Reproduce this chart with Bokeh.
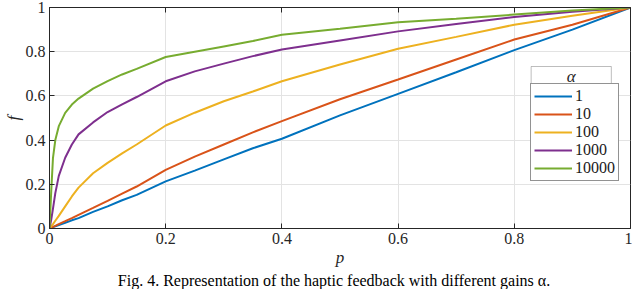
from bokeh.plotting import figure
from bokeh.models import (Legend, LegendItem, LinearAxis, FixedTicker, Label,
                          Range1d, BoxAnnotation, Title)
from bokeh.core.properties import value
from bokeh.embed import file_html
from bokeh.resources import INLINE

# ---- data ----
p_vals = [0, 0.003, 0.006, 0.01, 0.016, 0.027, 0.0385, 0.05, 0.075, 0.1, 0.125,
          0.15, 0.2, 0.25, 0.3, 0.35, 0.4, 0.5, 0.6, 0.7, 0.8, 0.9, 1.0]
f_a1 = [0, 0.003, 0.006, 0.01, 0.016, 0.026, 0.037, 0.047, 0.075, 0.1, 0.128,
        0.152, 0.213, 0.262, 0.313, 0.363, 0.406, 0.512, 0.609, 0.707, 0.807, 0.90, 1.0]
f_a10 = [0, 0.003, 0.007, 0.012, 0.02, 0.033, 0.047, 0.062, 0.093, 0.125, 0.158,
         0.19, 0.265, 0.325, 0.38, 0.435, 0.486, 0.585, 0.674, 0.765, 0.855, 0.922, 1.0]
f_a100 = [0, 0.01, 0.02, 0.035, 0.057, 0.10, 0.145, 0.185, 0.25, 0.297, 0.34,
          0.38, 0.466, 0.524, 0.576, 0.62, 0.666, 0.742, 0.813, 0.867, 0.922, 0.963, 1.0]
f_a1000 = [0, 0.04, 0.09, 0.16, 0.238, 0.32, 0.38, 0.426, 0.48, 0.527, 0.562,
           0.595, 0.666, 0.711, 0.746, 0.78, 0.81, 0.851, 0.892, 0.925, 0.957, 0.981, 1.0]
f_a10000 = [0, 0.17, 0.32, 0.40, 0.463, 0.523, 0.561, 0.588, 0.633, 0.667, 0.697,
            0.722, 0.776, 0.80, 0.824, 0.848, 0.877, 0.904, 0.933, 0.949, 0.968, 0.986, 1.0]
series_labels = ["1", "10", "100", "1000", "10000"]
series_colors = ["#0072BD", "#D95319", "#EDB120", "#7E2F8E", "#77AC30"]
x_ticks = [0, 0.2, 0.4, 0.6, 0.8, 1]
x_tick_labels = ["0", "0.2", "0.4", "0.6", "0.8", "1"]
y_ticks = [0, 0.2, 0.4, 0.6, 0.8, 1]
y_tick_labels = ["0", "0.2", "0.4", "0.6", "0.8", "1"]
legend_title = "α"
x_label = "p"
y_label = "f"
caption = "Fig. 4.    Representation of the haptic feedback with different gains α."

INK = "#262626"
SERIF = "Liberation Serif"


def set_font(obj, attr, name=SERIF):
    try:
        setattr(obj, attr, value(name))
    except Exception:
        setattr(obj, attr, name)


p = figure(width=632, height=289, output_backend="svg", toolbar_location=None,
           x_range=Range1d(0, 1), y_range=Range1d(0, 1),
           min_border_left=42, min_border_right=2, min_border_top=7,
           min_border_bottom=61)
p.background_fill_color = "white"
p.outline_line_color = INK
p.outline_line_width = 1

series = [f_a1, f_a10, f_a100, f_a1000, f_a10000]
items = []
for ys, lab, col in zip(series, series_labels, series_colors):
    r = p.line(p_vals, ys, line_color=col, line_width=2)
    items.append(LegendItem(label=lab, renderers=[r]))


def style_axis(ax, ticks, labels, show_labels=True):
    ax.ticker = FixedTicker(ticks=ticks)
    ax.major_tick_in = 5
    ax.major_tick_out = 0
    ax.minor_tick_in = 0
    ax.minor_tick_out = 0
    ax.axis_line_color = INK
    ax.major_tick_line_color = INK
    set_font(ax, "major_label_text_font")
    ax.major_label_text_font_size = "16px"
    ax.major_label_text_color = INK
    if show_labels:
        ax.major_label_overrides = {t: l for t, l in zip(ticks, labels)}
    else:
        ax.major_label_overrides = {t: "" for t in ticks}
        ax.major_label_text_font_size = "1px"
        ax.major_label_standoff = 0
        ax.axis_label_standoff = 0


style_axis(p.xaxis[0], x_ticks, x_tick_labels)
style_axis(p.yaxis[0], y_ticks, y_tick_labels)
p.xaxis[0].major_label_standoff = 4
p.yaxis[0].major_label_standoff = 4
p.xaxis[0].axis_label = x_label
p.yaxis[0].axis_label = y_label
for ax in (p.xaxis[0], p.yaxis[0]):
    set_font(ax, "axis_label_text_font")
    ax.axis_label_text_font_style = "italic"
    ax.axis_label_text_font_size = "17px"
    ax.axis_label_text_color = INK
p.xaxis[0].axis_label_standoff = 1
p.yaxis[0].axis_label_standoff = 0

top_ax = LinearAxis()
style_axis(top_ax, x_ticks, x_tick_labels, show_labels=False)
p.add_layout(top_ax, "above")

p.grid.grid_line_color = "#e3e3e3"
p.grid.grid_line_width = 1
p.xgrid.ticker = FixedTicker(ticks=x_ticks)
p.ygrid.ticker = FixedTicker(ticks=y_ticks)

# legend title cell (box + centred symbol) above the item list
p.add_layout(BoxAnnotation(left=0.829, right=0.967, top=0.733, bottom=0.642,
                           fill_color="white", fill_alpha=1,
                           line_color=INK, line_width=1, level="overlay"))
alpha_label = Label(x=0.898, y=0.688, text=legend_title,
                    text_font_style="italic", text_font_size="17px",
                    text_color=INK, text_align="center", text_baseline="middle",
                    level="overlay")
set_font(alpha_label, "text_font")
p.add_layout(alpha_label)

legend = Legend(items=items, location=(481, 47),
                label_text_font_size="16px",
                label_text_color="#1a1a1a",
                glyph_width=38, glyph_height=18, label_height=18, label_width=40,
                label_standoff=3, spacing=0, padding=3, margin=0,
                border_line_color=INK, border_line_width=1,
                background_fill_alpha=1, background_fill_color="white")
set_font(legend, "label_text_font")
p.add_layout(legend, "center")

cap = Title(text=caption, align="center",
            text_font_size="16px", text_font_style="normal",
            text_color="black", standoff=0, offset=-12)
set_font(cap, "text_font")
p.add_layout(cap, "below")

open("out.html", "w").write(file_html(p, INLINE))
